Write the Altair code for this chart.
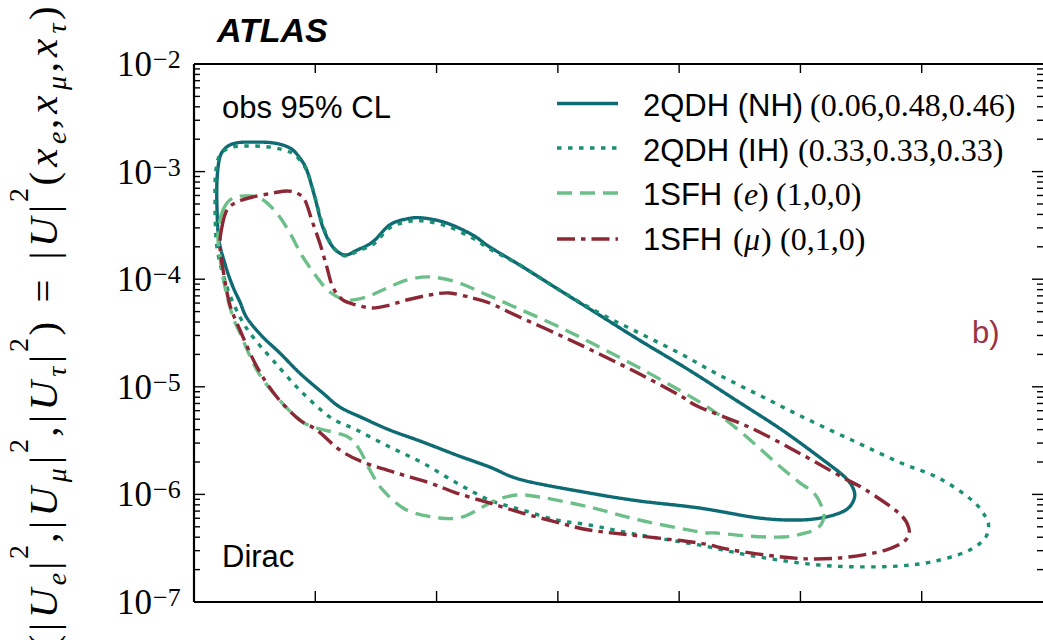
import altair as alt
import pandas as pd

W, H = 849, 538

series_names = ["2QDH (NH)", "2QDH (IH)", "1SFH (e)", "1SFH (mu)"]
series_colors = ["#0f6b73", "#1a8f72", "#6cbf88", "#8c2836"]
series_dash = [[1, 0], [4.5, 6.5], [15, 8], [18, 6, 4.5, 6]]

# ---- contour data: mass [GeV], |U|^2 ----
nh_mass = [3.708, 3.56, 3.436, 3.379, 3.321, 3.263, 3.206, 3.19, 3.19, 3.214, 3.272, 3.354, 3.461, 3.65,
           3.79, 3.872, 3.93, 3.996, 4.062, 4.144, 4.243, 4.342, 4.473, 4.613, 4.753, 4.885, 5.082, 5.296,
           5.436, 5.683, 6.012, 6.342, 6.671, 7.082, 7.469, 7.848, 8.21, 8.374, 8.44, 8.44, 8.374, 8.21,
           7.988, 7.658, 7.165, 6.671, 6.259, 5.708, 5.436, 5.165, 4.885, 4.613, 4.391, 4.202, 4.062, 3.872]
nh_u2 = [2.06e-5, 2.96e-5, 4.37e-5, 6.14e-5, 8.5e-5, 1.3e-4, 2.3e-4, 4.4e-4, 8.4e-4, 1.37e-3, 1.7e-3, 1.85e-3,
         1.88e-3, 1.85e-3, 1.66e-3, 1.34e-3, 1.03e-3, 5.8e-4, 3.05e-4, 2.0e-4, 1.68e-4, 1.86e-4, 2.22e-4,
         3.19e-4, 3.63e-4, 3.71e-4, 3.33e-4, 2.58e-4, 2.0e-4, 1.36e-4, 7.94e-5, 4.65e-5, 2.72e-5, 1.43e-5,
         7.5e-6, 3.97e-6, 2.0e-6, 1.42e-6, 1.1e-6, 8.9e-7, 7.16e-7, 6.17e-7, 5.78e-7, 6.04e-7, 7.48e-7,
         8.69e-7, 1.03e-6, 1.36e-6, 1.8e-6, 2.32e-6, 3.07e-6, 3.97e-6, 5.13e-6, 6.49e-6, 8.75e-6, 1.34e-5]

ih_mass = [5.436, 5.683, 6.012, 6.342, 6.671, 7.0, 7.329, 7.741, 8.07, 8.457, 8.811, 9.14, 9.412, 9.527,
           9.551, 9.51, 9.362, 9.082, 8.811, 8.539, 8.259, 7.988, 7.716, 7.436, 7.165, 6.671, 6.259, 5.988,
           5.708, 5.436, 5.165, 4.885, 4.613, 4.342, 4.119, 3.872, 3.65, 3.486, 3.379, 3.272, 3.189, 3.173,
           3.181, 3.214, 3.296, 3.42, 3.626, 3.79, 3.872, 3.938, 4.004, 4.07, 4.152, 4.251, 4.35, 4.481,
           4.613, 4.753, 4.885, 5.082, 5.296]
ih_u2 = [1.91e-4, 1.36e-4, 7.94e-5, 4.85e-5, 3.16e-5, 2.06e-5, 1.29e-5, 7.53e-6, 4.91e-6, 3.07e-6, 2.0e-6,
         1.42e-6, 8.87e-7, 6.17e-7, 4.88e-7, 3.77e-7, 2.92e-7, 2.36e-7, 2.16e-7, 2.12e-7, 2.16e-7, 2.31e-7,
         2.56e-7, 2.92e-7, 3.39e-7, 4.2e-7, 5.2e-7, 5.78e-7, 7.16e-7, 8.87e-7, 1.28e-6, 1.96e-6, 2.76e-6,
         3.97e-6, 5.25e-6, 9.33e-6, 1.77e-5, 2.9e-5, 4.46e-5, 8.47e-5, 1.99e-4, 5.81e-4, 1.03e-3, 1.43e-3,
         1.66e-3, 1.73e-3, 1.69e-3, 1.52e-3, 1.28e-3, 9.7e-4, 5.45e-4, 2.99e-4, 1.95e-4, 1.64e-4, 1.83e-4,
         2.12e-4, 2.99e-4, 3.4e-4, 3.48e-4, 3.12e-4, 2.41e-4]

e_mass = [3.198, 3.239, 3.321, 3.461, 3.56, 3.683, 3.79, 3.897, 4.012, 4.119, 4.259, 4.424, 4.556, 4.753,
          4.942, 5.165, 5.379, 5.683, 6.012, 6.342, 6.671, 7.0, 7.272, 7.519, 7.798, 7.988, 8.111, 8.177,
          8.193, 8.152, 8.045, 7.848, 7.576, 7.305, 7.165, 6.671, 6.259, 5.848, 5.658, 5.494, 5.379, 5.214,
          5.025, 4.753, 4.556, 4.45, 4.366, 4.284, 4.177, 4.012, 3.872, 3.683, 3.519, 3.379, 3.321, 3.255,
          3.214]
e_u2 = [2.69e-4, 4.4e-4, 5.69e-4, 5.93e-4, 5.56e-4, 4.12e-4, 2.69e-4, 1.61e-4, 1.05e-4, 7.6e-5, 6.41e-5,
        6.84e-5, 7.94e-5, 9.8e-5, 1.05e-4, 9.42e-5, 7.45e-5, 5.28e-5, 3.6e-5, 2.34e-5, 1.5e-5, 9.33e-6,
        6.08e-6, 3.72e-6, 1.96e-6, 1.3e-6, 1.03e-6, 7.64e-7, 6.17e-7, 4.98e-7, 4.38e-7, 4.02e-7, 4.1e-7,
        4.38e-7, 4.48e-7, 5.78e-7, 7.64e-7, 9.46e-7, 9.87e-7, 8.87e-7, 7.64e-7, 6.17e-7, 6.04e-7, 7.16e-7,
        1.1e-6, 1.69e-6, 2.59e-6, 3.34e-6, 3.72e-6, 4.14e-6, 4.91e-6, 8.04e-6, 1.43e-5, 3.16e-5, 4.46e-5,
        8.47e-5, 1.61e-4]

mu_mass = [3.214, 3.23, 3.272, 3.354, 3.486, 3.65, 3.765, 3.848, 3.914, 3.971, 4.037, 4.095, 4.144, 4.226,
           4.342, 4.473, 4.613, 4.753, 4.942, 5.107, 5.296, 5.436, 5.683, 6.012, 6.342, 6.671, 7.0, 7.165,
           7.576, 7.988, 8.342, 8.539, 8.811, 8.893, 8.868, 8.704, 8.399, 8.128, 7.848, 7.436, 7.165, 6.671,
           6.259, 5.988, 5.708, 5.436, 5.165, 4.942, 4.671, 4.391, 4.202, 4.012, 3.872, 3.683, 3.519, 3.379,
           3.296, 3.247]
mu_u2 = [1.99e-4, 3.05e-4, 4.4e-4, 5.21e-4, 5.81e-4, 6.32e-4, 6.61e-4, 6.32e-4, 5.45e-4, 3.55e-4, 2.17e-4,
         1.3e-4, 8.47e-5, 6.41e-5, 5.75e-5, 5.4e-5, 5.75e-5, 6.41e-5, 7.13e-5, 7.45e-5, 6.68e-5, 6.01e-5,
         4.46e-5, 3.03e-5, 2.02e-5, 1.32e-5, 8.39e-6, 6.49e-6, 4.23e-6, 2.43e-6, 1.45e-6, 1.1e-6, 6.71e-7,
         4.88e-7, 3.77e-7, 3.04e-7, 2.62e-7, 2.51e-7, 2.62e-7, 3.04e-7, 3.53e-7, 4.11e-7, 4.67e-7, 5.53e-7,
         6.71e-7, 8.32e-7, 1.03e-6, 1.28e-6, 1.58e-6, 2.0e-6, 2.59e-6, 3.97e-6, 4.91e-6, 8.04e-6, 1.53e-5,
         3.37e-5, 5.75e-5, 1.09e-4]

# ---- axis ticks and labels ----
y_major = [1e-2, 1e-3, 1e-4, 1e-5, 1e-6, 1e-7]
y_sup = ["\u22122", "\u22123", "\u22124", "\u22125", "\u22126", "\u22127"]
y_minor = [m * d for d in [1e-7, 1e-6, 1e-5, 1e-4, 1e-3] for m in [2, 3, 4, 5, 6, 7, 8, 9]]
x_major = [4, 5, 6, 7, 8, 9]

legend_sans = ["2QDH (NH)", "2QDH (IH)", "1SFH", "1SFH"]

rows = []
for name, ms, us in zip(series_names, [nh_mass, ih_mass, e_mass, mu_mass], [nh_u2, ih_u2, e_u2, mu_u2]):
    for i, (m, u) in enumerate(zip(ms, us)):
        rows.append({"series": name, "i": i, "mass": m, "u2": u})
df = pd.DataFrame(rows)

xscale = alt.Scale(domain=[3, 10], nice=False, zero=False)
yscale = alt.Scale(type="log", domain=[1e-7, 1e-2], nice=False)

lines = alt.Chart(df).mark_line(strokeWidth=3.4, strokeCap="butt", interpolate="cardinal-closed", clip=True).encode(
    x=alt.X("mass:Q", scale=xscale, axis=None),
    y=alt.Y("u2:Q", scale=yscale, axis=None),
    color=alt.Color("series:N", scale=alt.Scale(domain=series_names, range=series_colors), legend=None),
    strokeDash=alt.StrokeDash("series:N", scale=alt.Scale(domain=series_names, range=series_dash), legend=None),
    order=alt.Order("i:Q"),
)

ymaj_df = pd.DataFrame({"v": y_major, "sup": y_sup})
ymin_df = pd.DataFrame({"v": y_minor})
xmaj_df = pd.DataFrame({"v": x_major})

def ytick(d, x0, x1):
    return alt.Chart(d).mark_rule(color="black", strokeWidth=1.4).encode(
        y=alt.Y("v:Q", scale=yscale, axis=None), x=alt.value(x0), x2=alt.value(x1))

def xtick(y0, y1):
    return alt.Chart(xmaj_df).mark_rule(color="black", strokeWidth=1.4).encode(
        x=alt.X("v:Q", scale=xscale, axis=None), y=alt.value(y0), y2=alt.value(y1))

ticks = [ytick(ymaj_df, 0, 11), ytick(ymin_df, 0, 6), ytick(ymaj_df, W - 11, W), ytick(ymin_df, W - 6, W),
         xtick(H, H - 11), xtick(0, 9)]

one = alt.Data(values=[{"a": 1}])

spines = [
    alt.Chart(one).mark_rule(color="black", strokeWidth=2.2).encode(x=alt.value(0), x2=alt.value(W), y=alt.value(0)),
    alt.Chart(one).mark_rule(color="black", strokeWidth=2.2).encode(x=alt.value(0), x2=alt.value(W), y=alt.value(H)),
    alt.Chart(one).mark_rule(color="black", strokeWidth=2.2).encode(x=alt.value(0), y=alt.value(0), y2=alt.value(H)),
]

lab10 = alt.Chart(ymaj_df).mark_text(align="right", baseline="alphabetic", font="Liberation Serif",
                                     fontSize=35, dy=12, color="black").encode(
    y=alt.Y("v:Q", scale=yscale, axis=None), x=alt.value(-42), text=alt.value("10"))
labsup = alt.Chart(ymaj_df).mark_text(align="left", baseline="alphabetic", font="Liberation Serif",
                                      fontSize=26, dy=4, color="black").encode(
    y=alt.Y("v:Q", scale=yscale, axis=None), x=alt.value(-41), text="sup:N")


def txt(s, x, y, font="Liberation Sans", size=31, color="black", style="normal", weight="normal",
        align="left", angle=0):
    return alt.Chart(one).mark_text(align=align, baseline="alphabetic", font=font, fontSize=size, color=color,
                                    fontStyle=style, fontWeight=weight, angle=angle).encode(
        x=alt.value(x), y=alt.value(y), text=alt.value(s))

annots = [
    txt("ATLAS", 23, -22, size=34, style="italic", weight="bold"),
    txt("obs 95% CL", 28, 54),
    txt("Dirac", 28, 503),
    txt("b)", 778, 279, color="#9a3343"),
]

# legend
leg_line_y = [39.5, 84, 129, 175]
leg_base_y = [52, 96.5, 141, 185.5]
for k in range(4):
    annots.append(alt.Chart(one).mark_rule(color=series_colors[k], strokeWidth=3.4, strokeDash=series_dash[k],
                                           strokeCap="butt").encode(
        x=alt.value(363), x2=alt.value(424), y=alt.value(leg_line_y[k])))
    annots.append(txt(legend_sans[k], 449, leg_base_y[k]))
S = "Liberation Serif"
annots += [
    txt("(0.06,0.48,0.46)", 616, leg_base_y[0], font=S, size=32),
    txt("(0.33,0.33,0.33)", 604, leg_base_y[1], font=S, size=32),
    txt("(", 539, leg_base_y[2], font=S, size=32),
    txt("e", 550, leg_base_y[2], font=S, size=32, style="italic"),
    txt(")", 564, leg_base_y[2], font=S, size=32),
    txt("(1,0,0)", 582, leg_base_y[2], font=S, size=32),
    txt("(", 539, leg_base_y[3], font=S, size=32),
    txt("\u03bc", 550, leg_base_y[3], font=S, size=32, style="italic"),
    txt(")", 567, leg_base_y[3], font=S, size=32),
    txt("(0,1,0)", 586, leg_base_y[3], font=S, size=32),
]

# rotated y-axis title, built piece by piece: (text, kind, advance in em, italic)
title_pieces = [
    ("(", "n", .389, False), ("|", "n", .278, False), ("U", "n", .78, True), ("e", "sub", .33, True),
    ("|", "n", .278, False), ("2", "sup", .35, False), (",", "n", .3, False),
    ("|", "n", .278, False), ("U", "n", .78, True), ("\u03bc", "sub", .42, True),
    ("|", "n", .278, False), ("2", "sup", .35, False), (",", "n", .3, False),
    ("|", "n", .278, False), ("U", "n", .78, True), ("\u03c4", "sub", .31, True),
    ("|", "n", .278, False), ("2", "sup", .35, False), (")", "n", .389, False),
    ("=", "eq", 1.334, False),
    ("|", "n", .278, False), ("U", "n", .78, True), ("|", "n", .278, False), ("2", "sup", .35, False),
    ("(", "n", .389, False), ("x", "n", .572, True), ("e", "sub", .33, True), (",", "n", .3, False),
    ("x", "n", .572, True), ("\u03bc", "sub", .42, True), (",", "n", .3, False),
    ("x", "n", .572, True), ("\u03c4", "sub", .31, True), (")", "n", .389, False),
]
unit = 44
pos = 650 - 64
for s, kind, adv, ital in title_pieces:
    center = pos - adv * unit / 2
    if kind == "sub":
        xx, fs = -128, 28
    elif kind == "sup":
        xx, fs = -166, 28
    else:
        xx, fs = -137, 41
    annots.append(txt(s, xx, center, font=S, size=fs, style="italic" if ital else "normal",
                      align="center", angle=270))
    pos -= adv * unit

chart = alt.layer(lines, *ticks, *spines, lab10, labsup, *annots).properties(
    width=W, height=H,
    autosize=alt.AutoSizeParams(type="none"),
    padding={"left": 194, "top": 64, "right": 0, "bottom": 38},
    background="white",
).configure_view(stroke=None)

chart.save("out.html", embed_options={"renderer": "svg", "actions": False})
